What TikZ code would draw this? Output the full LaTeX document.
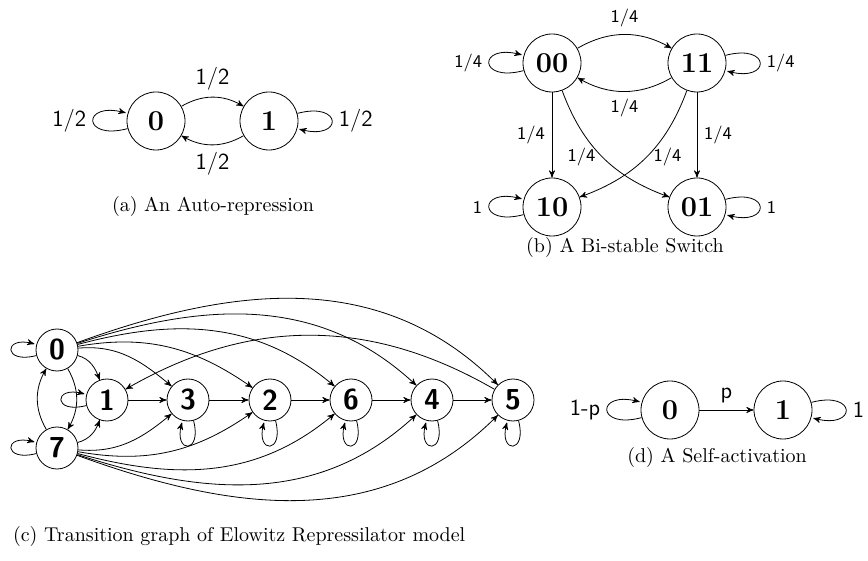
\documentclass[tikz,border=0pt]{standalone}
\usepackage{amsfonts, amssymb, amsmath}
\usepackage{tikz}
\usetikzlibrary{arrows}
\tikzset{l/.style={font=\fontsize{11.5}{11.5}\sffamily\selectfont}}
\tikzset{m/.style={font=\fontsize{9}{9}\sffamily\selectfont}}
\tikzset{s/.style={circle,draw,inner sep=0pt,minimum size=29pt,font=\Large\bfseries}}
\tikzset{t/.style={circle,draw,inner sep=0pt,minimum size=21pt,font=\Large\sffamily\bfseries}}

\begin{document}
\begin{tikzpicture}[x=0.5pt,y=0.5pt,>=stealth']
  \useasboundingbox (0,0) rectangle (868,-561);
  % (a)
  \node[s] (a0) at (156,-121) {0}
    edge [->,loop left] node [l,left] {1/2} ();
  \node[s] (a1) at (269,-121) {1}
    edge [<-,bend right] node [l,above] {1/2} (a0)
    edge [->,bend left] node [l,below] {1/2} (a0)
    edge [->,loop right] node [l,right] {1/2} ();
  \node (capa) at (213,-207) {(a) An Auto-repression};
  % (b)
  \node[s] (b00) at (552,-63) {00}
    edge [->,loop left] node [m,left] {1/4} ();
  \node[s] (b11) at (697,-63) {11}
    edge [<-,bend right] node [m,above] {1/4} (b00)
    edge [->,bend left] node [m,below] {1/4} (b00)
    edge [->,loop right] node [m,right] {1/4} ();
  \node[s] (b10) at (552,-207) {10}
    edge [<-] node [m,left] {1/4} (b00)
    edge [<-,bend right=25] node [m,right] {1/4} (b11)
    edge [->,loop left] node [m,left] {1} ();
  \node[s] (b01) at (697,-207) {01}
    edge [<-] node [m,right] {1/4} (b11)
    edge [<-,bend left=25] node [m,left] {1/4} (b00)
    edge [->,loop right] node [m,right] {1} ();
  \node (capb) at (625,-248) {(b) A Bi-stable Switch};
  % (c)
  \node[t] (c0) at (57,-350) {0}
    edge [->,loop left] ();
  \node[t] (c7) at (57,-448) {7}
    edge [->,loop left] ()
    edge [<-,bend right] (c0)
    edge [->,bend left] (c0);
  \node[t] (c1) at (107,-400) {1}
    edge [->,loop left] ()
    edge [<-,out=110,in=-15] (c0)
    edge [<-,out=-110,in=15] (c7);
  \node[t] (c3) at (188,-400) {3}
    edge [<-] (c1)
    edge [<-,out=140,in=5] (c0)
    edge [<-,out=-140,in=-5] (c7)
    edge [->,loop below] ();
  \node[t] (c2) at (270,-400) {2}
    edge [<-] (c3)
    edge [<-,out=145,in=10] (c0)
    edge [<-,out=-145,in=-10] (c7)
    edge [->,loop below] ();
  \node[t] (c6) at (351,-400) {6}
    edge [<-] (c2)
    edge [<-,out=140,in=15] (c0)
    edge [<-,out=-140,in=-15] (c7)
    edge [->,loop below] ();
  \node[t] (c4) at (432,-400) {4}
    edge [<-] (c6)
    edge [<-,out=137,in=18] (c0)
    edge [<-,out=-137,in=-18] (c7)
    edge [->,loop below] ();
  \node[t] (c5) at (513,-400) {5}
    edge [<-] (c4)
    edge [<-,out=135,in=20] (c0)
    edge [<-,out=-135,in=-20] (c7)
    edge [->,out=150,in=30] (c1)
    edge [->,loop below] ();
  \node[anchor=west] (capc) at (6,-536) {(c) Transition graph of Elowitz Repressilator model};
  % (d)
  \node[s] (d0) at (670,-410) {0}
    edge [->,loop left] node [l,left] {1-p} ();
  \node[s] (d1) at (783,-410) {1}
    edge [<-] node [l,above] {p} (d0)
    edge [->,loop right] node [l,right] {1} ();
  \node (capd) at (717,-457) {(d) A Self-activation};
\end{tikzpicture}
\end{document}
